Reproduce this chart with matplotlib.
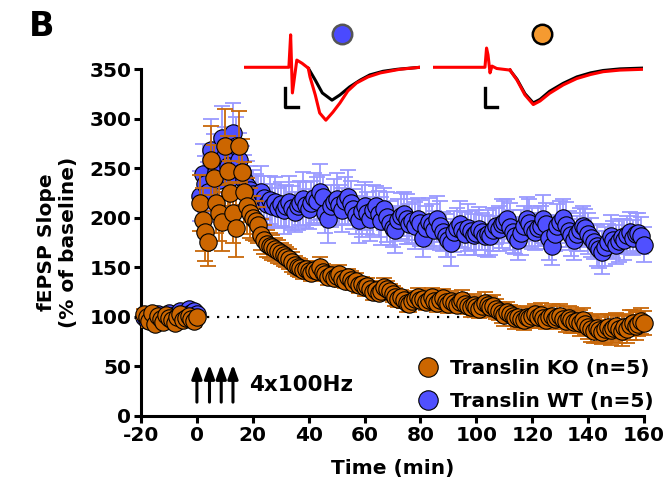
import numpy as np
import matplotlib
matplotlib.use("Agg")
import matplotlib.pyplot as plt
from matplotlib.lines import Line2D

# time axis (min): baseline then post-tetanus, 1 sample per minute
base_time = np.arange(-19, 1)
post_time = np.arange(1, 161)
time = np.concatenate([base_time, post_time])

# Translin KO (orange)
ko_base = [103, 100, 96, 104, 93, 101, 98, 95, 102, 99, 97, 94, 100, 103, 97, 99, 101, 98, 96, 100]
ko_post = [215, 198, 186, 176, 258, 240, 215, 205, 196, 272, 247, 225, 205, 190, 272, 246, 226, 212, 205, 200,
           197, 193, 183, 178, 174, 172, 170, 168, 166, 164, 162, 160, 158, 155, 152, 150, 149, 147, 148, 146,
           144, 147, 146, 150, 145, 143, 140, 142, 139, 141, 143, 138, 136, 140, 137, 134, 136, 132, 133, 130,
           131, 128, 125, 127, 124, 126, 130, 128, 126, 123, 120, 118, 120, 117, 114, 113, 116, 118, 120, 117,
           118, 115, 117, 120, 116, 114, 117, 119, 115, 113, 116, 114, 112, 115, 117, 113, 111, 110, 112, 110,
           108, 111, 114, 112, 110, 111, 108, 106, 104, 102, 105, 103, 101, 99, 100, 98, 97, 100, 99, 101,
           103, 100, 102, 99, 97, 100, 101, 98, 100, 101, 98, 96, 99, 97, 95, 96, 94, 97, 93, 90,
           88, 86, 89, 87, 85, 88, 90, 87, 89, 91, 88, 86, 90, 88, 92, 94, 91, 93, 96, 94]
ko_base_err = [5, 4, 6, 5, 4, 5, 6, 4, 5, 5, 4, 6, 5, 4, 5, 5, 4, 5, 6, 5]
ko_post_err = [28, 32, 30, 25, 35, 33, 30, 28, 30, 38, 35, 32, 30, 30, 36, 33, 30, 28, 25, 22,
               20, 18, 16, 15, 14, 13, 13, 12, 12, 11, 11, 10, 10, 10, 9, 9, 9, 9, 8, 8,
               8, 9, 8, 10, 8, 7, 8, 9, 7, 8, 9, 8, 7, 8, 9, 7, 8, 8, 7, 9,
               8, 7, 8, 9, 7, 8, 9, 8, 7, 8, 9, 8, 7, 8, 9, 8, 7, 8, 9, 8,
               9, 8, 10, 9, 8, 9, 10, 9, 8, 9, 10, 9, 8, 9, 10, 9, 8, 10, 11, 10,
               9, 10, 11, 9, 10, 11, 10, 9, 10, 11, 10, 9, 10, 11, 10, 9, 10, 11, 10, 9,
               10, 11, 12, 10, 9, 11, 12, 10, 11, 12, 10, 11, 12, 13, 11, 12, 13, 12, 11, 12,
               13, 12, 14, 13, 12, 14, 13, 15, 14, 13, 14, 15, 13, 14, 15, 13, 14, 12, 13, 12]

# Translin WT (blue)
wt_base = [100, 97, 102, 99, 96, 103, 100, 98, 101, 104, 99, 102, 100, 106, 103, 101, 108, 104, 106, 103]
wt_post = [222, 244, 234, 226, 268, 255, 246, 238, 280, 262, 252, 240, 286, 272, 258, 246, 238, 232, 228, 224,
           222, 218, 226, 220, 214, 218, 212, 216, 210, 214, 208, 212, 216, 210, 206, 212, 215, 219, 213, 209,
           215, 220, 217, 226, 221, 205, 199, 212, 216, 219, 213, 208, 217, 221, 215, 209, 203, 198, 207, 212,
           205, 199, 208, 212, 204, 197, 209, 201, 195, 190, 188, 198, 202, 204, 199, 194, 197, 192, 199, 195,
           180, 190, 196, 193, 188, 199, 192, 186, 182, 178, 175, 186, 190, 194, 188, 184, 190, 187, 183, 185,
           189, 186, 182, 184, 182, 188, 192, 189, 194, 196, 199, 191, 186, 182, 178, 185, 192, 199, 195, 189,
           186, 190, 192, 199, 194, 180, 172, 184, 192, 196, 200, 193, 187, 183, 178, 184, 188, 192, 190, 184,
           180, 176, 172, 168, 165, 171, 176, 182, 178, 173, 177, 181, 178, 183, 186, 180, 184, 185, 182, 173]
wt_base_err = [4, 3, 5, 4, 3, 4, 5, 3, 4, 4, 3, 5, 4, 3, 4, 4, 5, 4, 3, 4]
wt_post_err = [25, 30, 28, 30, 32, 30, 28, 30, 33, 30, 30, 28, 30, 30, 28, 26, 25, 25, 24, 24,
               22, 24, 26, 22, 20, 24, 22, 25, 20, 22, 24, 21, 26, 22, 20, 24, 22, 27, 23, 20,
               22, 25, 24, 28, 22, 20, 24, 21, 23, 26, 20, 22, 24, 27, 22, 20, 19, 23, 26, 24,
               21, 22, 25, 20, 23, 24, 21, 25, 22, 20, 24, 21, 23, 22, 25, 20, 22, 24, 21, 23,
               20, 22, 24, 21, 19, 23, 25, 20, 22, 18, 24, 21, 20, 23, 19, 22, 24, 20, 21, 23,
               22, 19, 21, 24, 20, 22, 18, 23, 25, 21, 20, 24, 22, 19, 21, 23, 20, 22, 24, 21,
               19, 22, 20, 24, 21, 23, 20, 18, 22, 21, 19, 23, 20, 22, 21, 18, 22, 20, 19, 21,
               20, 18, 21, 19, 22, 20, 18, 21, 19, 20, 22, 18, 21, 19, 20, 18, 21, 20, 19, 18]

stim_times = [0, 4.5, 8.7, 12.9]
baseline_level = 100

# example fEPSP traces (ms, mV)
trace_t_wt = [0, 5.1, 5.3, 5.5, 6.0, 6.6, 7.3]
trace_v_wt = [0, 0, 0.81, -0.64, 0.18, 0.10, -0.02]
wt_black_t = [7.3, 8.1, 8.9, 10.0, 10.9, 12.0, 13.2, 14.3, 15.8, 17.4, 20.0]
wt_black_v = [-0.02, -0.32, -0.64, -0.82, -0.69, -0.49, -0.32, -0.19, -0.10, -0.05, 0]
wt_red_t = [7.3, 7.5, 8.1, 8.6, 9.3, 10.1, 10.9, 11.8, 12.8, 14.1, 15.5, 17.7, 20.0]
wt_red_v = [-0.02, -0.24, -0.69, -1.14, -1.32, -1.12, -0.89, -0.59, -0.39, -0.24, -0.14, -0.05, 0]

trace_t_ko = [0, 4.95, 5.1, 5.24, 5.43, 5.62, 6.07, 7.33]
trace_v_ko = [0, 0, 0.48, 0.31, -0.14, 0.03, -0.03, -0.07]
ko_black_t = [7.33, 8.0, 8.76, 9.55, 10.2, 11.1, 12.4, 13.7, 15.0, 16.2, 17.8, 20.0]
ko_black_v = [-0.07, -0.30, -0.66, -0.89, -0.80, -0.60, -0.40, -0.24, -0.14, -0.08, -0.04, -0.02]
ko_red_t = [7.33, 8.0, 8.76, 9.55, 10.2, 11.1, 12.4, 13.7, 15.0, 16.2, 17.8, 20.0]
ko_red_v = [-0.07, -0.32, -0.69, -0.93, -0.84, -0.65, -0.44, -0.28, -0.18, -0.11, -0.07, -0.05]

blue = '#5050ff'
blue_err = '#9a9aff'
orange = '#cc6600'
orange_err = '#c8680a'

plt.rcParams['font.family'] = 'DejaVu Sans'
plt.rcParams['font.weight'] = 'bold'
plt.rcParams['axes.unicode_minus'] = False

fig = plt.figure(figsize=(6.69, 4.97), dpi=100)
ax = fig.add_axes([0.2108, 0.163, 0.7519, 0.698])

wt_y = wt_base + wt_post
wt_e = wt_base_err + wt_post_err
ko_y = ko_base + ko_post
ko_e = ko_base_err + ko_post_err

ax.plot([0, 160], [baseline_level, baseline_level], ls=(0, (1, 3.5)), color='black', lw=1.6, zorder=1)

ax.errorbar(time, wt_y, yerr=wt_e, fmt='none', ecolor=blue_err, elinewidth=1.3,
            capsize=6, capthick=1.3, zorder=2, clip_on=False)
ax.plot(time, wt_y, 'o', ms=12.5, mfc=blue, mec='black', mew=0.8, zorder=3, clip_on=False)
ax.errorbar(time, ko_y, yerr=ko_e, fmt='none', ecolor=orange_err, elinewidth=1.3,
            capsize=6, capthick=1.3, zorder=4, clip_on=False)
ax.plot(time, ko_y, 'o', ms=12.5, mfc=orange, mec='black', mew=0.8, zorder=5, clip_on=False)

for t in stim_times:
    ax.annotate('', xy=(t, 52), xytext=(t, 14),
                arrowprops=dict(arrowstyle='-|>,head_length=0.55,head_width=0.2', color='black',
                                lw=2.2, mutation_scale=15, shrinkA=0, shrinkB=0))
ax.text(18.8, 31, '4x100Hz', fontsize=15.5, fontweight='bold', va='center', ha='left')

ax.set_xlim(-20, 160)
ax.set_ylim(0, 350)
ax.set_xticks(np.arange(-20, 161, 20))
ax.set_yticks(np.arange(0, 351, 50))
for s in ['top', 'right']:
    ax.spines[s].set_visible(False)
for s in ['left', 'bottom']:
    ax.spines[s].set_linewidth(2.2)
ax.tick_params(width=2.2, length=5, labelsize=14.5, pad=2)
for lab in ax.get_xticklabels() + ax.get_yticklabels():
    lab.set_fontweight('bold')

ax.set_xlabel('Time (min)', fontsize=14.5, fontweight='bold', labelpad=10)
ax.set_ylabel('fEPSP Slope\n(% of baseline)', fontsize=14.5, fontweight='bold', labelpad=8)

handles = [Line2D([], [], ls='none', marker='o', ms=14, mfc=orange, mec='black', mew=0.8),
           Line2D([], [], ls='none', marker='o', ms=14, mfc=blue, mec='black', mew=0.8)]
ax.legend(handles, ['Translin KO (n=5)', 'Translin WT (n=5)'], loc='lower right',
          bbox_to_anchor=(1.035, -0.01), frameon=False, fontsize=14.5, handlelength=1.0,
          handletextpad=0.6, labelspacing=0.7, borderaxespad=0)

fig.text(0.043, 0.98, 'B', fontsize=24, fontweight='bold', va='top', ha='left')

# trace insets
ins1 = fig.add_axes([244 / 669, 1 - 125 / 497, 176 / 669, 105 / 497])
ins1.plot(wt_black_t, wt_black_v, color='black', lw=2.2, solid_capstyle='round')
ins1.plot(wt_red_t, wt_red_v, color='red', lw=2.2, solid_capstyle='round')
ins1.plot(trace_t_wt, trace_v_wt, color='red', lw=2.2)
ins1.plot([4.66, 4.66, 6.1], [-0.52, -0.99, -0.99], color='black', lw=2.4)
ins1.plot([11.1], [0.83], 'o', ms=14, mfc='#4a4aff', mec='#555555', mew=1.8)
ins1.set_xlim(0, 20)
ins1.set_ylim(-1.44, 1.18)
ins1.axis('off')

ins2 = fig.add_axes([433 / 669, 1 - 125 / 497, 210 / 669, 105 / 497])
ins2.plot(ko_black_t, ko_black_v, color='black', lw=2.2)
ins2.plot(ko_red_t, ko_red_v, color='red', lw=2.2)
ins2.plot(trace_t_ko, trace_v_ko, color='red', lw=2.2)
ins2.plot([4.95, 4.95, 6.1], [-0.52, -0.99, -0.99], color='black', lw=2.4)
ins2.plot([10.4], [0.83], 'o', ms=14, mfc='#f59a30', mec='black', mew=1.8)
ins2.set_xlim(0, 20)
ins2.set_ylim(-1.44, 1.18)
ins2.axis('off')

fig.savefig('out.png', dpi=100)
